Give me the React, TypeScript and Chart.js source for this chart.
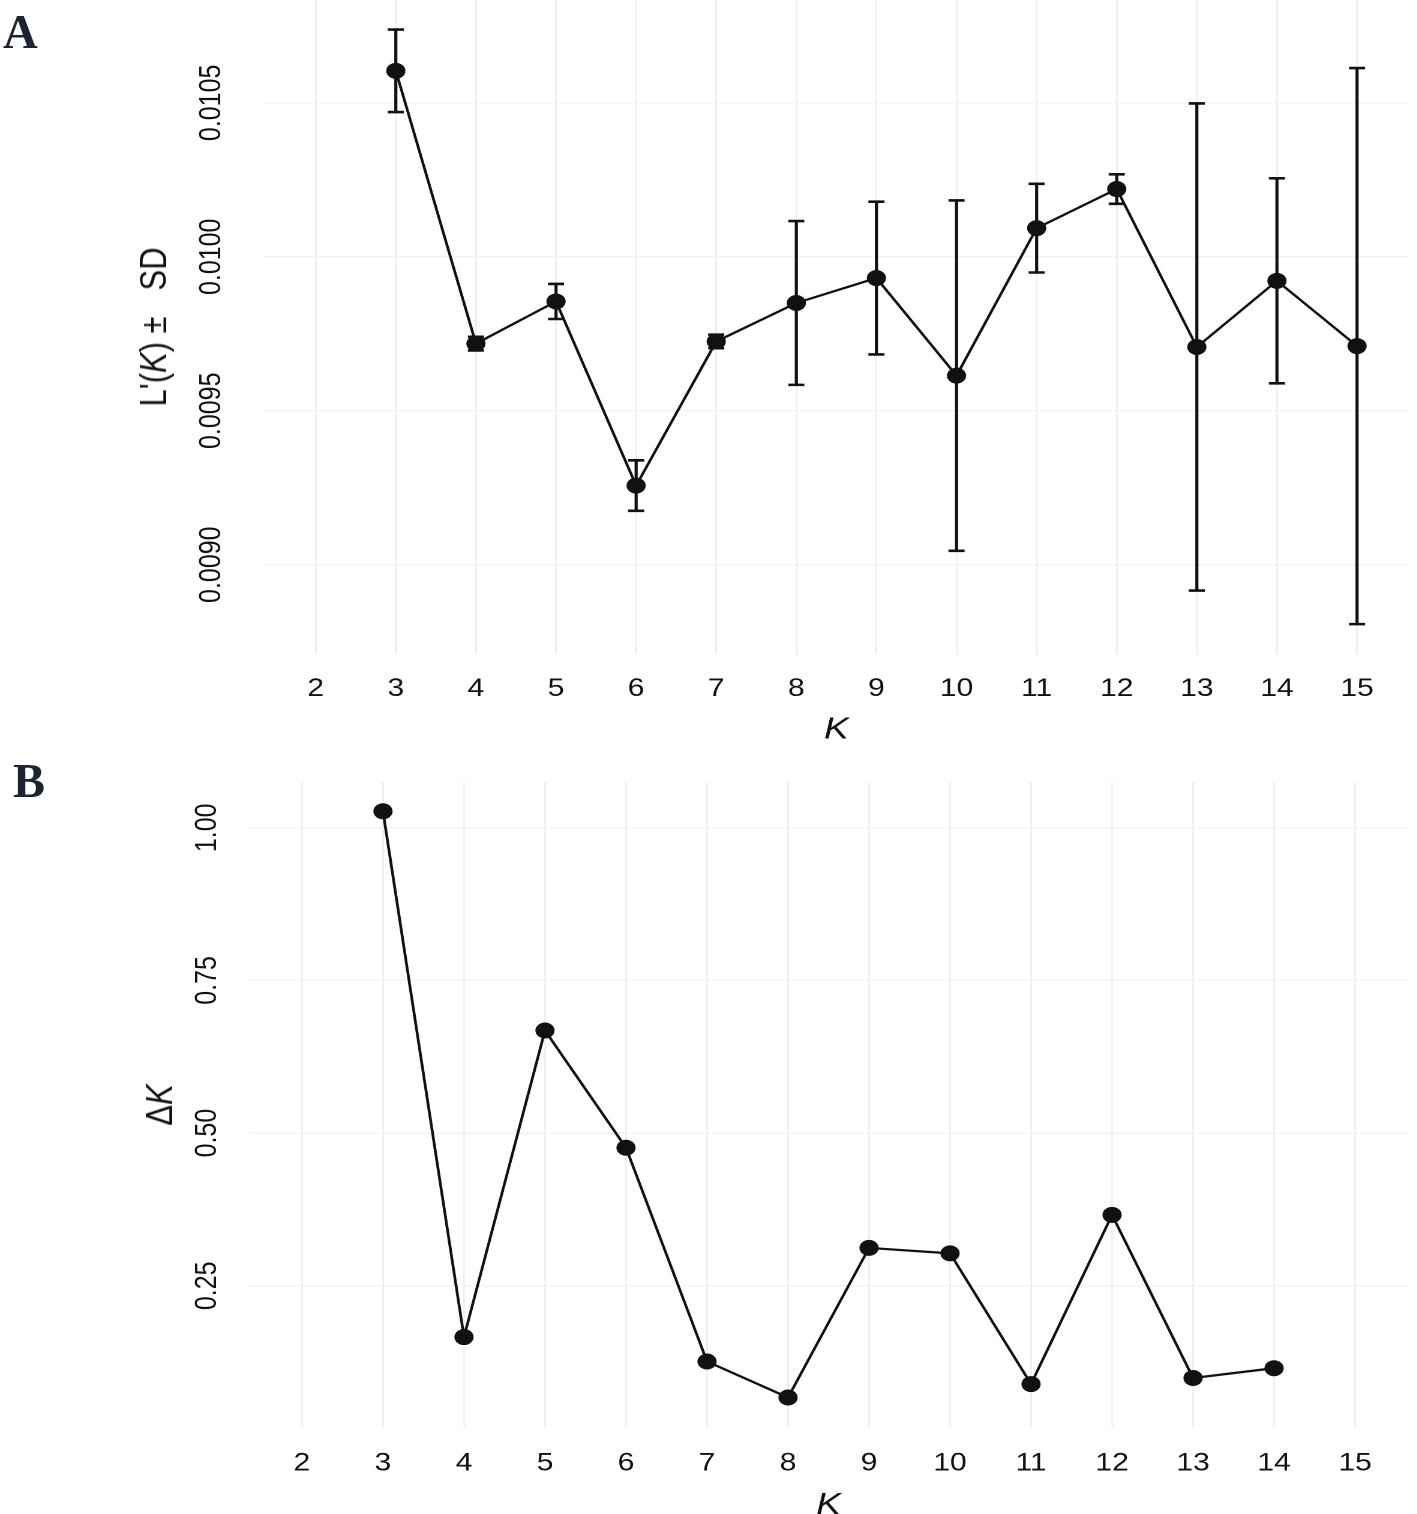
import React, { useEffect, useRef } from 'react';
import { Chart, registerables } from 'chart.js';

Chart.register(...registerables);

// Panel A: L'(K) mean and SD per K
const kValuesA = [3, 4, 5, 6, 7, 8, 9, 10, 11, 12, 13, 14, 15];
const meanA = [
  0.010604, 0.009718, 0.009855, 0.009257, 0.009725, 0.00985, 0.009931,
  0.009614, 0.010093, 0.01022, 0.009707, 0.009922, 0.00971,
];
const sdA = [
  0.000134, 0.000022, 0.000057, 0.000082, 0.000022, 0.000266, 0.000248,
  0.000569, 0.000144, 0.000048, 0.000791, 0.000333, 0.000903,
];

// Panel B: delta K per K
const kValuesB = [3, 4, 5, 6, 7, 8, 9, 10, 11, 12, 13, 14];
const deltaK = [1.027, 0.166, 0.668, 0.476, 0.126, 0.067, 0.312, 0.303, 0.089, 0.366, 0.099, 0.115];

const kTicks = [2, 3, 4, 5, 6, 7, 8, 9, 10, 11, 12, 13, 14, 15];
const yTicksA = [0.009, 0.0095, 0.01, 0.0105];
const yTicksB = [0.25, 0.5, 0.75, 1.0];

const STRETCH = 1.2; // the reference is drawn slightly wide
const FONT = "'Liberation Sans', Arial, Helvetica, sans-serif";

const errorBarPlugin = (ks: number[], means: number[], sds: number[]) => ({
  id: 'errorBars',
  beforeDatasetsDraw(chart: any) {
    const { ctx, scales } = chart;
    const x = scales.x;
    const y = scales.y;
    ctx.save();
    ctx.strokeStyle = '#111';
    ctx.lineWidth = 2.6;
    ks.forEach((k, i) => {
      const px = x.getPixelForValue(k);
      const top = y.getPixelForValue(means[i] + sds[i]);
      const bottom = y.getPixelForValue(means[i] - sds[i]);
      ctx.beginPath();
      ctx.moveTo(px, top);
      ctx.lineTo(px, bottom);
      ctx.moveTo(px - 6.7, top);
      ctx.lineTo(px + 6.7, top);
      ctx.moveTo(px - 6.7, bottom);
      ctx.lineTo(px + 6.7, bottom);
      ctx.stroke();
    });
    ctx.restore();
  },
});

interface PanelProps {
  top: number;
  ks: number[];
  values: number[];
  sds?: number[];
  yTicks: number[];
  yMin: number;
  yMax: number;
  decimals: number;
  yAxisWidth: number;
  yTickPadding: number;
  xAxisHeight: number;
  xTickPadding: number;
  titlePadBottom: number;
  padTop: number;
  padRight: number;
  yTitle: React.ReactNode;
  yTitleX: number;
  yTitleY: number;
}

const KPanel: React.FC<PanelProps> = (p) => {
  const canvasRef = useRef<HTMLCanvasElement>(null);

  useEffect(() => {
    if (!canvasRef.current) return;
    const chart = new Chart(canvasRef.current, {
      type: 'line',
      data: {
        datasets: [
          {
            data: p.ks.map((k, i) => ({ x: k, y: p.values[i] })),
            borderColor: '#111',
            borderWidth: 2.3,
            pointRadius: 8,
            pointHoverRadius: 8,
            pointBackgroundColor: '#111',
            pointBorderWidth: 0,
            tension: 0,
            clip: false as any,
          },
        ],
      },
      options: {
        animation: false,
        responsive: true,
        maintainAspectRatio: false,
        devicePixelRatio: 2,
        events: [],
        layout: {
          autoPadding: false,
          padding: { top: p.padTop, right: p.padRight, left: 0, bottom: 0 },
        },
        plugins: { legend: { display: false }, tooltip: { enabled: false } },
        scales: {
          x: {
            type: 'linear',
            min: 1.35,
            max: 15.65,
            afterBuildTicks: (s: any) => {
              s.ticks = kTicks.map((v) => ({ value: v }));
            },
            afterFit: (s: any) => {
              s.height = p.xAxisHeight;
              s.paddingLeft = 0;
              s.paddingRight = 0;
            },
            grid: { color: '#efefef', lineWidth: 1.5, drawTicks: false },
            border: { display: false },
            ticks: {
              autoSkip: false,
              maxRotation: 0,
              padding: p.xTickPadding,
              color: '#111',
              font: { family: FONT, size: 25 },
              callback: (v: any) => String(v),
            },
            title: {
              display: true,
              text: 'K',
              color: '#111',
              font: { family: FONT, size: 31, style: 'italic' },
              padding: { top: 0, bottom: p.titlePadBottom },
            },
          },
          y: {
            type: 'linear',
            min: p.yMin,
            max: p.yMax,
            afterBuildTicks: (s: any) => {
              s.ticks = p.yTicks.map((v) => ({ value: v }));
            },
            afterFit: (s: any) => {
              s.width = p.yAxisWidth;
              s.paddingTop = 0;
              s.paddingBottom = 0;
            },
            grid: { color: '#f3f3f3', lineWidth: 1.5, drawTicks: false },
            border: { display: false },
            ticks: {
              minRotation: 90,
              maxRotation: 90,
              crossAlign: 'center',
              padding: p.yTickPadding,
              color: '#111',
              font: { family: FONT, size: 25 },
              callback: (v: any) => Number(v).toFixed(p.decimals),
            },
          },
        },
      },
      plugins: p.sds ? [errorBarPlugin(p.ks, p.values, p.sds)] : [],
    } as any);

    return () => {
      chart.destroy();
    };
  }, []);

  return (
    <div
      style={{
        position: 'absolute',
        left: 0,
        top: p.top,
        width: 1181,
        height: 760,
        transform: `scaleX(${STRETCH})`,
        transformOrigin: '0 0',
      }}
    >
      <canvas ref={canvasRef}></canvas>
      <div
        style={{
          position: 'absolute',
          left: p.yTitleX,
          top: p.yTitleY,
          transform: 'translate(-50%, -50%) rotate(-90deg)',
          fontFamily: FONT,
          fontSize: 31,
          lineHeight: '36px',
          color: '#111',
          whiteSpace: 'nowrap',
        }}
      >
        {p.yTitle}
      </div>
    </div>
  );
};

const letterStyle: React.CSSProperties = {
  position: 'absolute',
  fontFamily: "'Liberation Serif', 'Times New Roman', serif",
  fontWeight: 'bold',
  fontSize: 48,
  lineHeight: '48px',
  color: '#1c2434',
};

export default function App() {
  return (
    <div
      style={{
        position: 'absolute',
        left: 0,
        top: 0,
        width: 1417,
        height: 1514,
        overflow: 'hidden',
        background: '#fff',
      }}
    >
      <KPanel
        top={0}
        ks={kValuesA}
        values={meanA}
        sds={sdA}
        yTicks={yTicksA}
        yMin={0.00871}
        yMax={0.010834}
        decimals={4}
        yAxisWidth={219.7}
        yTickPadding={4.8}
        xAxisHeight={106}
        xTickPadding={20}
        titlePadBottom={11.4}
        padTop={0}
        padRight={6.75}
        yTitle={
          <span>
            L'(<i>K</i>) ±{'\u00a0\u00a0\u00a0'}SD
          </span>
        }
        yTitleX={127.5}
        yTitleY={327}
      />
      <KPanel
        top={770}
        ks={kValuesB}
        values={deltaK}
        yTicks={yTicksB}
        yMin={0.0187}
        yMax={1.075}
        decimals={2}
        yAxisWidth={207.75}
        yTickPadding={10.5}
        xAxisHeight={103}
        xTickPadding={21.5}
        titlePadBottom={6}
        padTop={12}
        padRight={7.9}
        yTitle={
          <span>
            Δ<i>K</i>
          </span>
        }
        yTitleX={133.3}
        yTitleY={334.5}
      />
      <div style={{ ...letterStyle, left: 3, top: 8 }}>A</div>
      <div style={{ ...letterStyle, left: 13, top: 757 }}>B</div>
    </div>
  );
}
